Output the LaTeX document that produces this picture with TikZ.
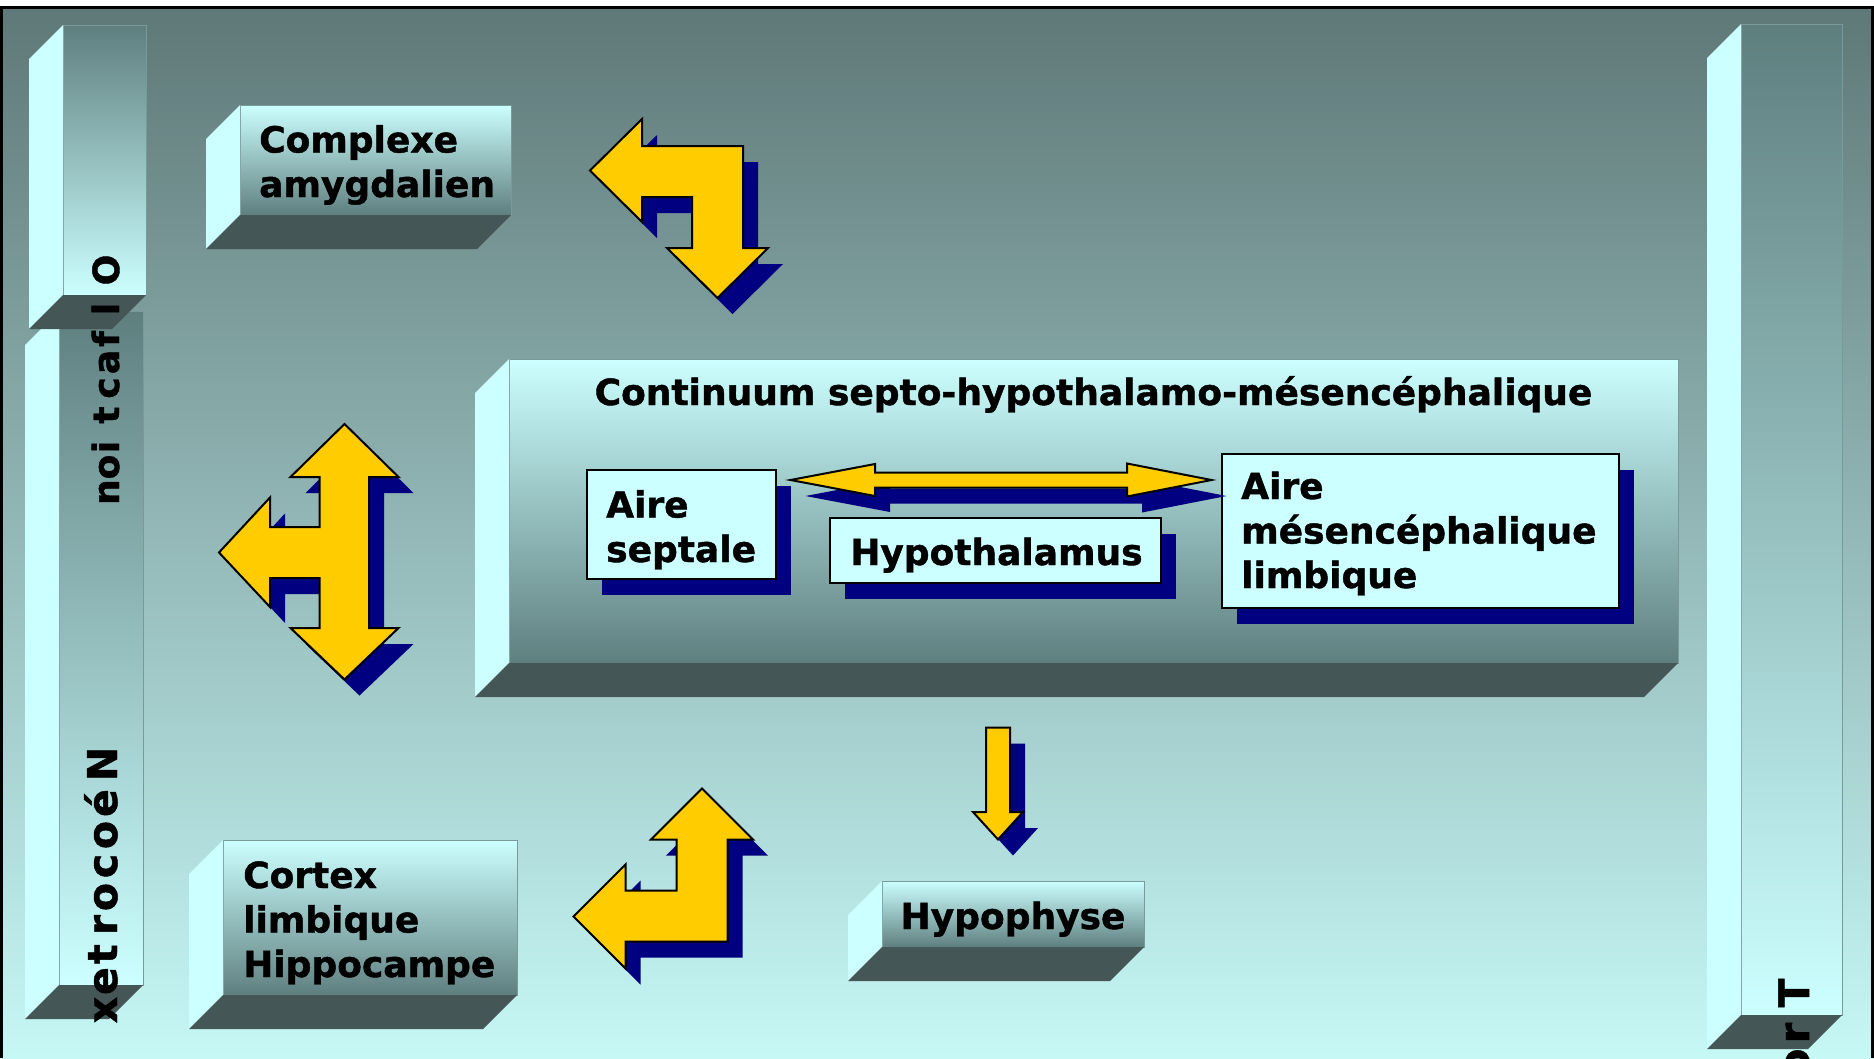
\documentclass[tikz,border=0pt]{standalone}
\usepackage{fontspec}
\setmainfont{DejaVu Sans}[BoldFeatures={FakeBold=1.2}]
\usepackage{tikz}
\usetikzlibrary{shadows}
\definecolor{limBgTop}{HTML}{5F7878}
\definecolor{limBgBot}{HTML}{C6F8F6}
\definecolor{limLight}{HTML}{CCFFFF}
\definecolor{limDark}{HTML}{5F7F7F}
\definecolor{limFloor}{HTML}{455656}
\definecolor{limEdge}{HTML}{7A9A9A}
\definecolor{limNavy}{HTML}{000080}
\definecolor{limYellow}{HTML}{FFCC00}
\tikzset{
  slabfront/.style={rectangle,anchor=north west,outer sep=0pt,inner sep=0pt,
    top color=limLight,bottom color=limDark,draw=limEdge,line width=0.8pt},
  slabbar/.style={rectangle,anchor=north west,outer sep=0pt,inner sep=0pt,
    top color=limDark,bottom color=limLight,draw=limEdge,line width=0.8pt},
  slabside/.style={fill=limLight},
  slabfloor/.style={fill=limFloor},
  innerbox/.style={rectangle,anchor=north west,outer sep=0pt,inner sep=0pt,
    fill=limLight,draw=black,line width=2pt,
    general shadow={fill=limNavy,shadow xshift=15pt,shadow yshift=-16pt}},
  boxlabel/.style={inner sep=0pt,align=left,font=\bfseries\fontsize{36}{44.5}\selectfont},
  barletter/.style={inner sep=0pt,anchor=base,rotate=90,font=\bfseries\fontsize{#1}{#1}\selectfont},
  fatbody/.style={fill=limYellow,draw=black,line width=2pt,line join=miter},
  fatshadow/.style={fill=limNavy,shift={(15,16)}}
}
% side and floor faces of a slab, hanging down to the left
\newcommand{\slabsides}[1]{%
  \fill[slabside] (#1.north west) -- ++(-34,34) -- ([shift={(-34,34)}]#1.south west) -- (#1.south west) -- cycle;
  \fill[slabfloor] (#1.south west) -- (#1.south east) -- ++(-34,34) -- ([shift={(-34,34)}]#1.south west) -- cycle;}
% yellow block arrow with its navy shadow
\newcommand{\fatarrow}[1]{%
  \fill[fatshadow] #1 -- cycle;
  \filldraw[fatbody] #1 -- cycle;}

\begin{document}
\begin{tikzpicture}[x=1pt,y=-1pt]
  \useasboundingbox (0,0) rectangle (1874,1058);
  % backdrop and frame
  \fill[white] (0,0) rectangle (1874,1058);
  \shade[top color=limBgTop,bottom color=limBgBot] (0,8) rectangle (1874,1058);
  \draw[line width=3pt] (0,7.5) -- (1874,7.5);
  \draw[line width=2.5pt] (1.25,7.5) -- (1.25,1058);
  \draw[line width=3pt] (1872.5,7.5) -- (1872.5,1058);

  % vertical bars
  \node[slabbar,minimum width=84pt,minimum height=674pt] (neo) at (59,311) {};
  \slabsides{neo}
  \node[slabbar,minimum width=83pt,minimum height=270pt] (olf) at (63,25) {};
  \slabsides{olf}
  \node[slabbar,minimum width=101pt,minimum height=991pt] (tronc) at (1741,24) {};
  \slabsides{tronc}

  % slabs
  \node[slabfront,minimum width=271pt,minimum height=110pt] (amyg) at (240,105) {};
  \slabsides{amyg}
  \node[slabfront,minimum width=1169pt,minimum height=304pt] (cont) at (509,359) {};
  \slabsides{cont}
  \node[slabfront,minimum width=294pt,minimum height=155pt] (cort) at (223,840) {};
  \slabsides{cort}
  \node[slabfront,minimum width=262pt,minimum height=66pt] (hypo) at (882,881) {};
  \slabsides{hypo}

  % labels sit on the baseline of their last line
  \node[boxlabel,anchor=base west] (amygtxt) at ([shift={(19,92)}]amyg.north west) {Complexe\\amygdalien};
  \node[boxlabel,anchor=base] (conttxt) at ([shift={(0,46)}]cont.north) {Continuum septo-hypothalamo-mésencéphalique};
  \node[boxlabel,anchor=base west] (corttxt) at ([shift={(20,137)}]cort.north west) {Cortex\\limbique\\Hippocampe};
  \node[boxlabel,anchor=base] (hypotxt) at ([shift={(0,48)}]hypo.north) {Hypophyse};

  % boxes inside the continuum
  \node[innerbox,minimum width=189.5pt,minimum height=109pt] (sept) at (586.5,470) {};
  \node[innerbox,minimum width=331pt,minimum height=65pt] (hypt) at (830,518) {};
  \node[innerbox,minimum width=397.5pt,minimum height=154pt] (mesen) at (1221.5,454) {};
  \node[boxlabel,anchor=base west] (septtxt) at ([shift={(19.5,92)}]sept.north west) {Aire\\septale};
  \node[boxlabel,anchor=base west] (hypttxt) at ([shift={(20,47)}]hypt.north west) {Hypothalamus};
  \node[boxlabel,anchor=base west] (mesentxt) at ([shift={(19.5,134)}]mesen.north west) {Aire\\mésencéphalique\\limbique};

  % block arrows
  \fatarrow{(590,170.5) -- (642,119) -- (642,146) -- (743,146) -- (743,248) -- (768,248) -- (717.5,298)
    -- (667,248) -- (692,248) -- (692,197) -- (642,197) -- (642,222)}
  \fatarrow{(344.5,424) -- (398.5,477) -- (369,477) -- (369,628) -- (398.5,628) -- (344.5,679.5)
    -- (290.5,628) -- (319.5,628) -- (319.5,578) -- (270,578) -- (270,607) -- (219,552.5)
    -- (270,497.5) -- (270,527) -- (319.5,527) -- (319.5,477) -- (290.5,477)}
  \fatarrow{(702,788.5) -- (753,839.5) -- (727.5,839.5) -- (727.5,941.5) -- (625.5,941.5) -- (625.5,968.5)
    -- (573.5,916.5) -- (625.5,864.5) -- (625.5,890.5) -- (676.5,890.5) -- (676.5,839.5) -- (651,839.5)}
  \fatarrow{(986,727.5) -- (1010,727.5) -- (1010,812) -- (1023,812) -- (998,839.5) -- (973,812) -- (986,812)}
  \fatarrow{(790.5,480) -- (875,464) -- (875,472.5) -- (1127,472.5) -- (1127,463.5) -- (1211.5,480)
    -- (1127,496.5) -- (1127,487.5) -- (875,487.5) -- (875,496)}

  % stacked letters on the bars
  \foreach \ch/\yy [count=\k] in {O/270,l/309,f/339,a/362,c/388,t/415,i/447,o/467,n/492}
    \node[barletter=36] (olfl\k) at (119,\yy) {\ch};
  \foreach \ch/\yy [count=\k] in {N/764,é/803,o/835,c/866,o/897,r/925,t/954,e/981,x/1010}
    \node[barletter=41] (neol\k) at (117,\yy) {\ch};
  \foreach \ch/\yy [count=\k] in {T/993,r/1033,o/1063}
    \node[barletter=42] (troncl\k) at (1809,\yy) {\ch};
\end{tikzpicture}
\end{document}
